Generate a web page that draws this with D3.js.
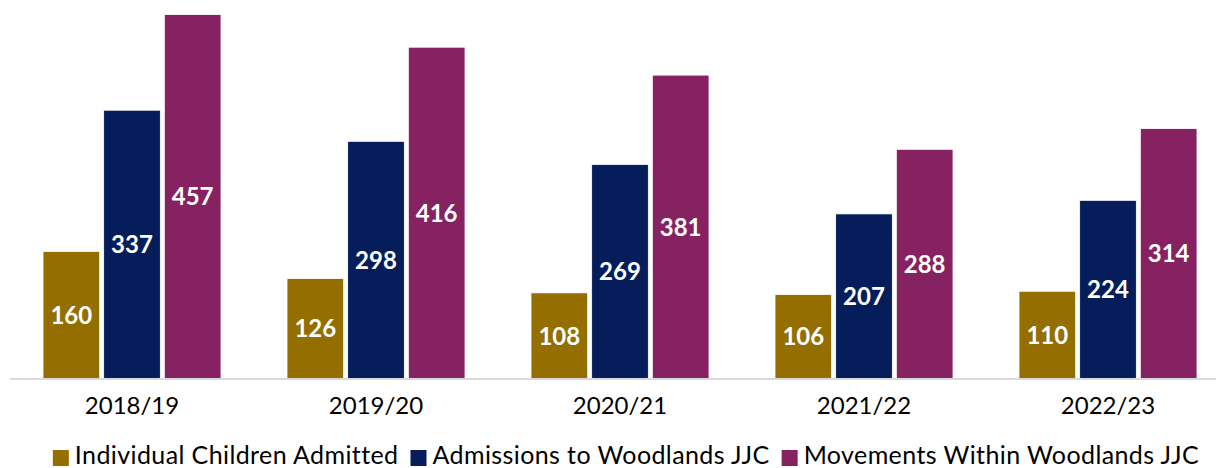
<!DOCTYPE html>
<html><head><meta charset="utf-8">
<script src="https://cdn.jsdelivr.net/npm/d3@7"></script>
<style>html,body{margin:0;padding:0;background:#fff;}svg{display:block;}</style>
</head><body>
<svg id="chart" width="1216" height="468"></svg>
<script>
const categories = ["2018/19","2019/20","2020/21","2021/22","2022/23"];
const seriesNames = ["Individual Children Admitted","Admissions to Woodlands JJC","Movements Within Woodlands JJC"];
const individualChildren = [160,126,108,106,110];
const admissions = [337,298,269,207,224];
const movements = [457,416,381,288,314];
const colors = ["#946F00","#061D5B","#862262"];

const seriesValues = [individualChildren, admissions, movements];
const data = categories.map((c,i)=>({cat:c, vals: seriesNames.map((s,j)=>({s, j, v: seriesValues[j][i]}))}));

const svg = d3.select("#chart");
const baseY = 379;
const x0 = d3.scaleBand().domain(categories).range([10,1230]).padding(0);
const x1 = d3.scaleBand().domain(seriesNames).range([33, 211]).paddingInner(0.066).paddingOuter(0);
const y = d3.scaleLinear().domain([0,500]).range([baseY, baseY - 500*0.7976]);

const font = "Lato, 'Open Sans', sans-serif";

const g = svg.selectAll("g.cat").data(data).join("g").attr("class","cat")
  .attr("transform", d=>`translate(${x0(d.cat)},0)`);

g.selectAll("rect").data(d=>d.vals).join("rect")
  .attr("x", d=>x1(d.s)).attr("width", x1.bandwidth())
  .attr("y", d=>y(d.v)).attr("height", d=>baseY - y(d.v))
  .attr("fill", d=>colors[d.j]).attr("stroke","#ffffff").attr("stroke-width",0.8);

g.selectAll("text.val").data(d=>d.vals).join("text").attr("class","val")
  .attr("x", d=>x1(d.s)+x1.bandwidth()/2)
  .attr("y", d=>(y(d.v)+baseY)/2)
  .attr("dy","0.36em")
  .attr("text-anchor","middle")
  .attr("fill","#ffffff").attr("font-family",font).attr("font-weight","bold").attr("font-size",24)
  .text(d=>d.v);

// axis
const axis = d3.axisBottom(x0).tickSize(0).tickPadding(18);
const ag = svg.append("g").attr("transform",`translate(0,${baseY})`).call(axis);
ag.select(".domain").attr("stroke","#d9d9d9").attr("stroke-width",2).attr("d","M10,0H1216");
ag.selectAll("text").attr("font-family",font).attr("font-size",24).attr("fill","#000").attr("dy","0.72em");

// legend
const leg = svg.append("g");
const sw = 16, gapST = 6, gapItem = 12;
let cx = 0;
seriesNames.forEach((s,i)=>{
  const it = leg.append("g");
  it.append("rect").attr("x",0).attr("y",-14).attr("width",sw).attr("height",sw).attr("fill",colors[i]);
  const t = it.append("text").attr("x",sw+gapST).attr("y",0)
    .attr("font-family",font).attr("font-size",25).attr("letter-spacing","0.4px").attr("fill","#000").text(s);
  const w = sw+gapST+t.node().getComputedTextLength();
  it.attr("transform",`translate(${cx},0)`);
  cx += w + gapItem;
});
const total = cx - gapItem;
leg.attr("transform",`translate(${626 - total/2},${464})`);
</script>
</body></html>
